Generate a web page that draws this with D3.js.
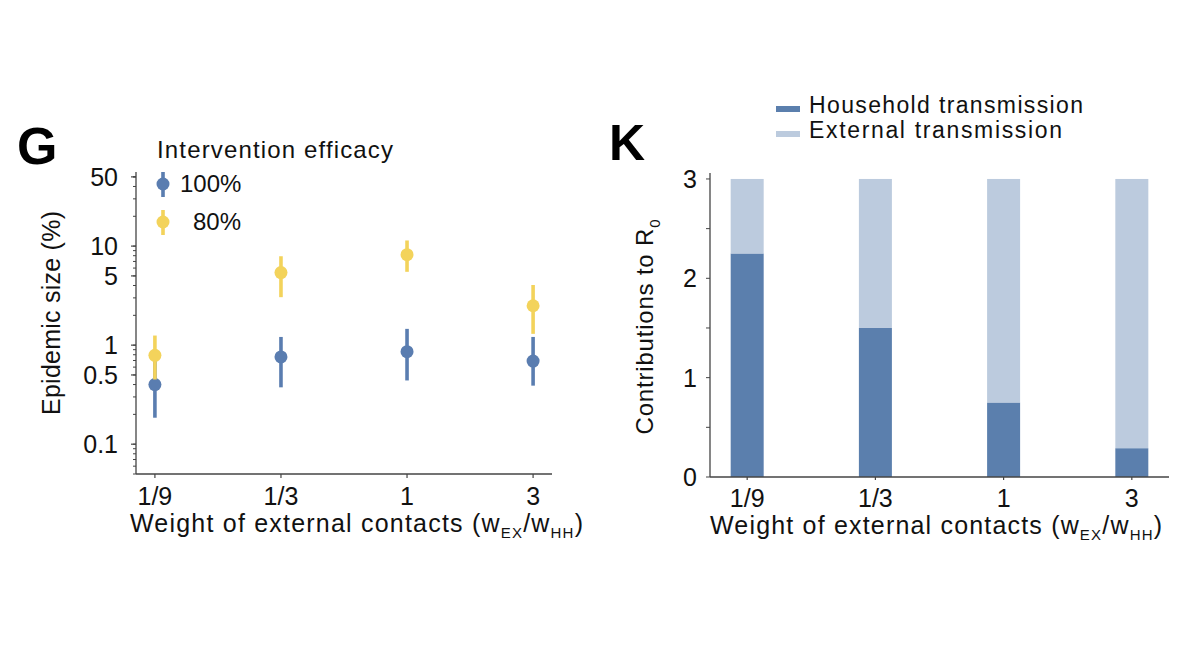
<!DOCTYPE html>
<html>
<head>
<meta charset="utf-8">
<script src="https://cdn.jsdelivr.net/npm/d3@7/dist/d3.min.js"></script>
<style>
  html, body { margin: 0; padding: 0; background: #fff; }
  svg { display: block; font-family: "Liberation Sans", Arial, sans-serif; }
</style>
</head>
<body>
<svg id="chart" width="1200" height="660"></svg>
<script>
// ---------- DATA ----------
const categories = ["1/9", "1/3", "1", "3"];

// Panel G: epidemic size (%), intervention efficacy 100% and 80%
const eff100Mid = [0.40, 0.76, 0.86, 0.69];
const eff100Low = [0.185, 0.375, 0.44, 0.39];
const eff100High = [0.70, 1.21, 1.46, 1.21];
const eff80Mid = [0.79, 5.4, 8.2, 2.5];
const eff80Low = [0.45, 3.05, 5.5, 1.3];
const eff80High = [1.25, 7.9, 11.4, 4.05];
const gTickValues = [0.1, 0.5, 1, 5, 10, 50];
const gTickLabels = ["0.1", "0.5", "1", "5", "10", "50"];
const legendG = ["100%", "80%"];

// Panel K: contributions to R0
const household = [2.25, 1.50, 0.75, 0.29];
const external = [0.75, 1.50, 2.25, 2.71];
const kTickValues = [0, 1, 2, 3];
const legendK = ["Household transmission", "External transmission"];

// ---------- STYLE ----------
const blue = "#5a7db0";
const yellow = "#f3d35b";
const darkBar = "#5b7fad";
const lightBar = "#bccbde";
const axisColor = "#444";
const textColor = "#111";

const svg = d3.select("#chart");

// ================= PANEL G =================
const gx = d3.scalePoint().domain(categories).range([136, 552]).padding(0.15);
const gy = d3.scaleLog().domain([0.05, 56]).range([474, 172]);

const G = svg.append("g");

G.append("text").attr("x", 17).attr("y", 164)
  .attr("font-size", 52).attr("font-weight", "bold").attr("fill", "#000").text("G");

// y axis: minor ticks
const minor = [];
[0.01, 0.1, 1, 10].forEach(dec => { for (let k = 1; k <= 9; k++) { const v = dec * k; if (v >= 0.05 && v <= 56) minor.push(v); } });
minor.push(50);
G.append("g").selectAll("line").data(minor).join("line")
  .attr("x1", 136).attr("x2", 133)
  .attr("y1", d => gy(d)).attr("y2", d => gy(d))
  .attr("stroke", axisColor).attr("stroke-width", 1);
G.append("g").selectAll("line").data(gTickValues).join("line")
  .attr("x1", 136).attr("x2", 131)
  .attr("y1", d => gy(d)).attr("y2", d => gy(d))
  .attr("stroke", axisColor).attr("stroke-width", 1.2);
G.append("g").selectAll("text").data(gTickValues).join("text")
  .attr("x", 118).attr("y", d => gy(d) + 9)
  .attr("text-anchor", "end").attr("font-size", 25).attr("fill", textColor)
  .text((d, i) => gTickLabels[i]);
G.append("line").attr("x1", 136).attr("x2", 136).attr("y1", 172).attr("y2", 474)
  .attr("stroke", axisColor).attr("stroke-width", 1.3);

// x axis
G.append("line").attr("x1", 136).attr("x2", 552).attr("y1", 474).attr("y2", 474)
  .attr("stroke", axisColor).attr("stroke-width", 1.3);
G.append("g").selectAll("line").data(categories).join("line")
  .attr("x1", d => gx(d)).attr("x2", d => gx(d)).attr("y1", 474).attr("y2", 478)
  .attr("stroke", axisColor).attr("stroke-width", 1.2);
G.append("g").selectAll("text").data(categories).join("text")
  .attr("x", d => gx(d)).attr("y", 505).attr("text-anchor", "middle")
  .attr("font-size", 25).attr("fill", textColor).text(d => d);

function xTitle(parent, x, y, len) {
  const t = parent.append("text").attr("x", x).attr("y", y)
    .attr("font-size", 25).attr("fill", textColor)
    .attr("textLength", len).attr("lengthAdjust", "spacing");
  t.append("tspan").text("Weight of external contacts (w");
  t.append("tspan").attr("font-size", 15).attr("dy", 6).text("EX");
  t.append("tspan").attr("dy", -6).text("/w");
  t.append("tspan").attr("font-size", 15).attr("dy", 6).text("HH");
  t.append("tspan").attr("dy", -6).text(")");
  return t;
}
xTitle(G, 130, 532, 453);

G.append("text").attr("transform", "translate(60,313) rotate(-90)")
  .attr("text-anchor", "middle").attr("font-size", 25).attr("fill", textColor)
  .attr("textLength", 204).attr("lengthAdjust", "spacing")
  .text("Epidemic size (%)");

function series(mid, lo, hi, color) {
  const s = G.append("g");
  s.selectAll("line").data(categories).join("line")
    .attr("x1", d => gx(d)).attr("x2", d => gx(d))
    .attr("y1", (d, i) => gy(lo[i])).attr("y2", (d, i) => gy(hi[i]))
    .attr("stroke", color).attr("stroke-width", 3.6);
  s.selectAll("circle").data(categories).join("circle")
    .attr("cx", d => gx(d)).attr("cy", (d, i) => gy(mid[i])).attr("r", 6.5)
    .attr("fill", color);
}
series(eff100Mid, eff100Low, eff100High, blue);
series(eff80Mid, eff80Low, eff80High, yellow);

// legend G
G.append("text").attr("x", 157).attr("y", 158).attr("font-size", 24)
  .attr("fill", textColor).attr("textLength", 236).attr("lengthAdjust", "spacing")
  .text("Intervention efficacy");
const legItems = [
  { label: legendG[0], color: blue, cy: 184, tx: 180, ty: 192 },
  { label: legendG[1], color: yellow, cy: 222, tx: 193, ty: 230 }
];
legItems.forEach(it => {
  G.append("line").attr("x1", 163).attr("x2", 163).attr("y1", it.cy - 12).attr("y2", it.cy + 13)
    .attr("stroke", it.color).attr("stroke-width", 3.6);
  G.append("circle").attr("cx", 163).attr("cy", it.cy).attr("r", 6.5).attr("fill", it.color);
  G.append("text").attr("x", it.tx).attr("y", it.ty).attr("font-size", 24)
    .attr("fill", textColor).text(it.label);
});

// ================= PANEL K =================
const kx = d3.scalePoint().domain(categories).range([710, 1169]).padding(0.29);
const ky = d3.scaleLinear().domain([0, 3.06]).range([477, 173]);
const K = svg.append("g");

K.append("text").attr("x", 609).attr("y", 160)
  .attr("font-size", 50).attr("font-weight", "bold").attr("fill", "#000").text("K");

const stackData = categories.map((c, i) => ({ cat: c, household: household[i], external: external[i] }));
const stacked = d3.stack().keys(["household", "external"])(stackData);
const barColors = { household: darkBar, external: lightBar };
const bw = 33;
K.append("g").selectAll("g").data(stacked).join("g")
  .attr("fill", d => barColors[d.key])
  .selectAll("rect").data(d => d).join("rect")
  .attr("x", d => kx(d.data.cat) - bw / 2)
  .attr("width", bw)
  .attr("y", d => ky(d[1]))
  .attr("height", d => ky(d[0]) - ky(d[1]));

const kMinor = [0.5, 1.5, 2.5];
K.append("g").selectAll("line").data(kTickValues.concat(kMinor)).join("line")
  .attr("x1", 710).attr("x2", 706).attr("y1", d => ky(d)).attr("y2", d => ky(d))
  .attr("stroke", axisColor).attr("stroke-width", 1);
K.append("g").selectAll("text").data(kTickValues).join("text")
  .attr("x", 697).attr("y", d => ky(d) + 9).attr("text-anchor", "end")
  .attr("font-size", 25).attr("fill", textColor).text(d => d);
K.append("line").attr("x1", 710).attr("x2", 710).attr("y1", 173).attr("y2", 477)
  .attr("stroke", axisColor).attr("stroke-width", 1.3);
K.append("line").attr("x1", 710).attr("x2", 1169).attr("y1", 477).attr("y2", 477)
  .attr("stroke", axisColor).attr("stroke-width", 1.3);
K.append("g").selectAll("line").data(categories).join("line")
  .attr("x1", d => kx(d)).attr("x2", d => kx(d))
  .attr("y1", 477).attr("y2", 480).attr("stroke", axisColor).attr("stroke-width", 1.2);
K.append("g").selectAll("text").data(categories).join("text")
  .attr("x", d => kx(d)).attr("y", 507).attr("text-anchor", "middle")
  .attr("font-size", 25).attr("fill", textColor).text(d => d);
xTitle(K, 710, 534, 452);

const kyl = K.append("text").attr("transform", "translate(653,327) rotate(-90)")
  .attr("text-anchor", "middle").attr("font-size", 24).attr("fill", textColor)
  .attr("textLength", 215).attr("lengthAdjust", "spacing");
kyl.append("tspan").text("Contributions to R");
kyl.append("tspan").attr("font-size", 15).attr("dy", 7).text("0");

const legK = [
  { label: legendK[0], color: darkBar, y: 113, len: 274 },
  { label: legendK[1], color: lightBar, y: 138, len: 253 }
];
legK.forEach(it => {
  K.append("rect").attr("x", 776).attr("y", it.y - 7).attr("width", 24).attr("height", 6).attr("fill", it.color);
  K.append("text").attr("x", 809).attr("y", it.y).attr("font-size", 23).attr("fill", textColor)
    .attr("textLength", it.len).attr("lengthAdjust", "spacing").text(it.label);
});
</script>
</body>
</html>
